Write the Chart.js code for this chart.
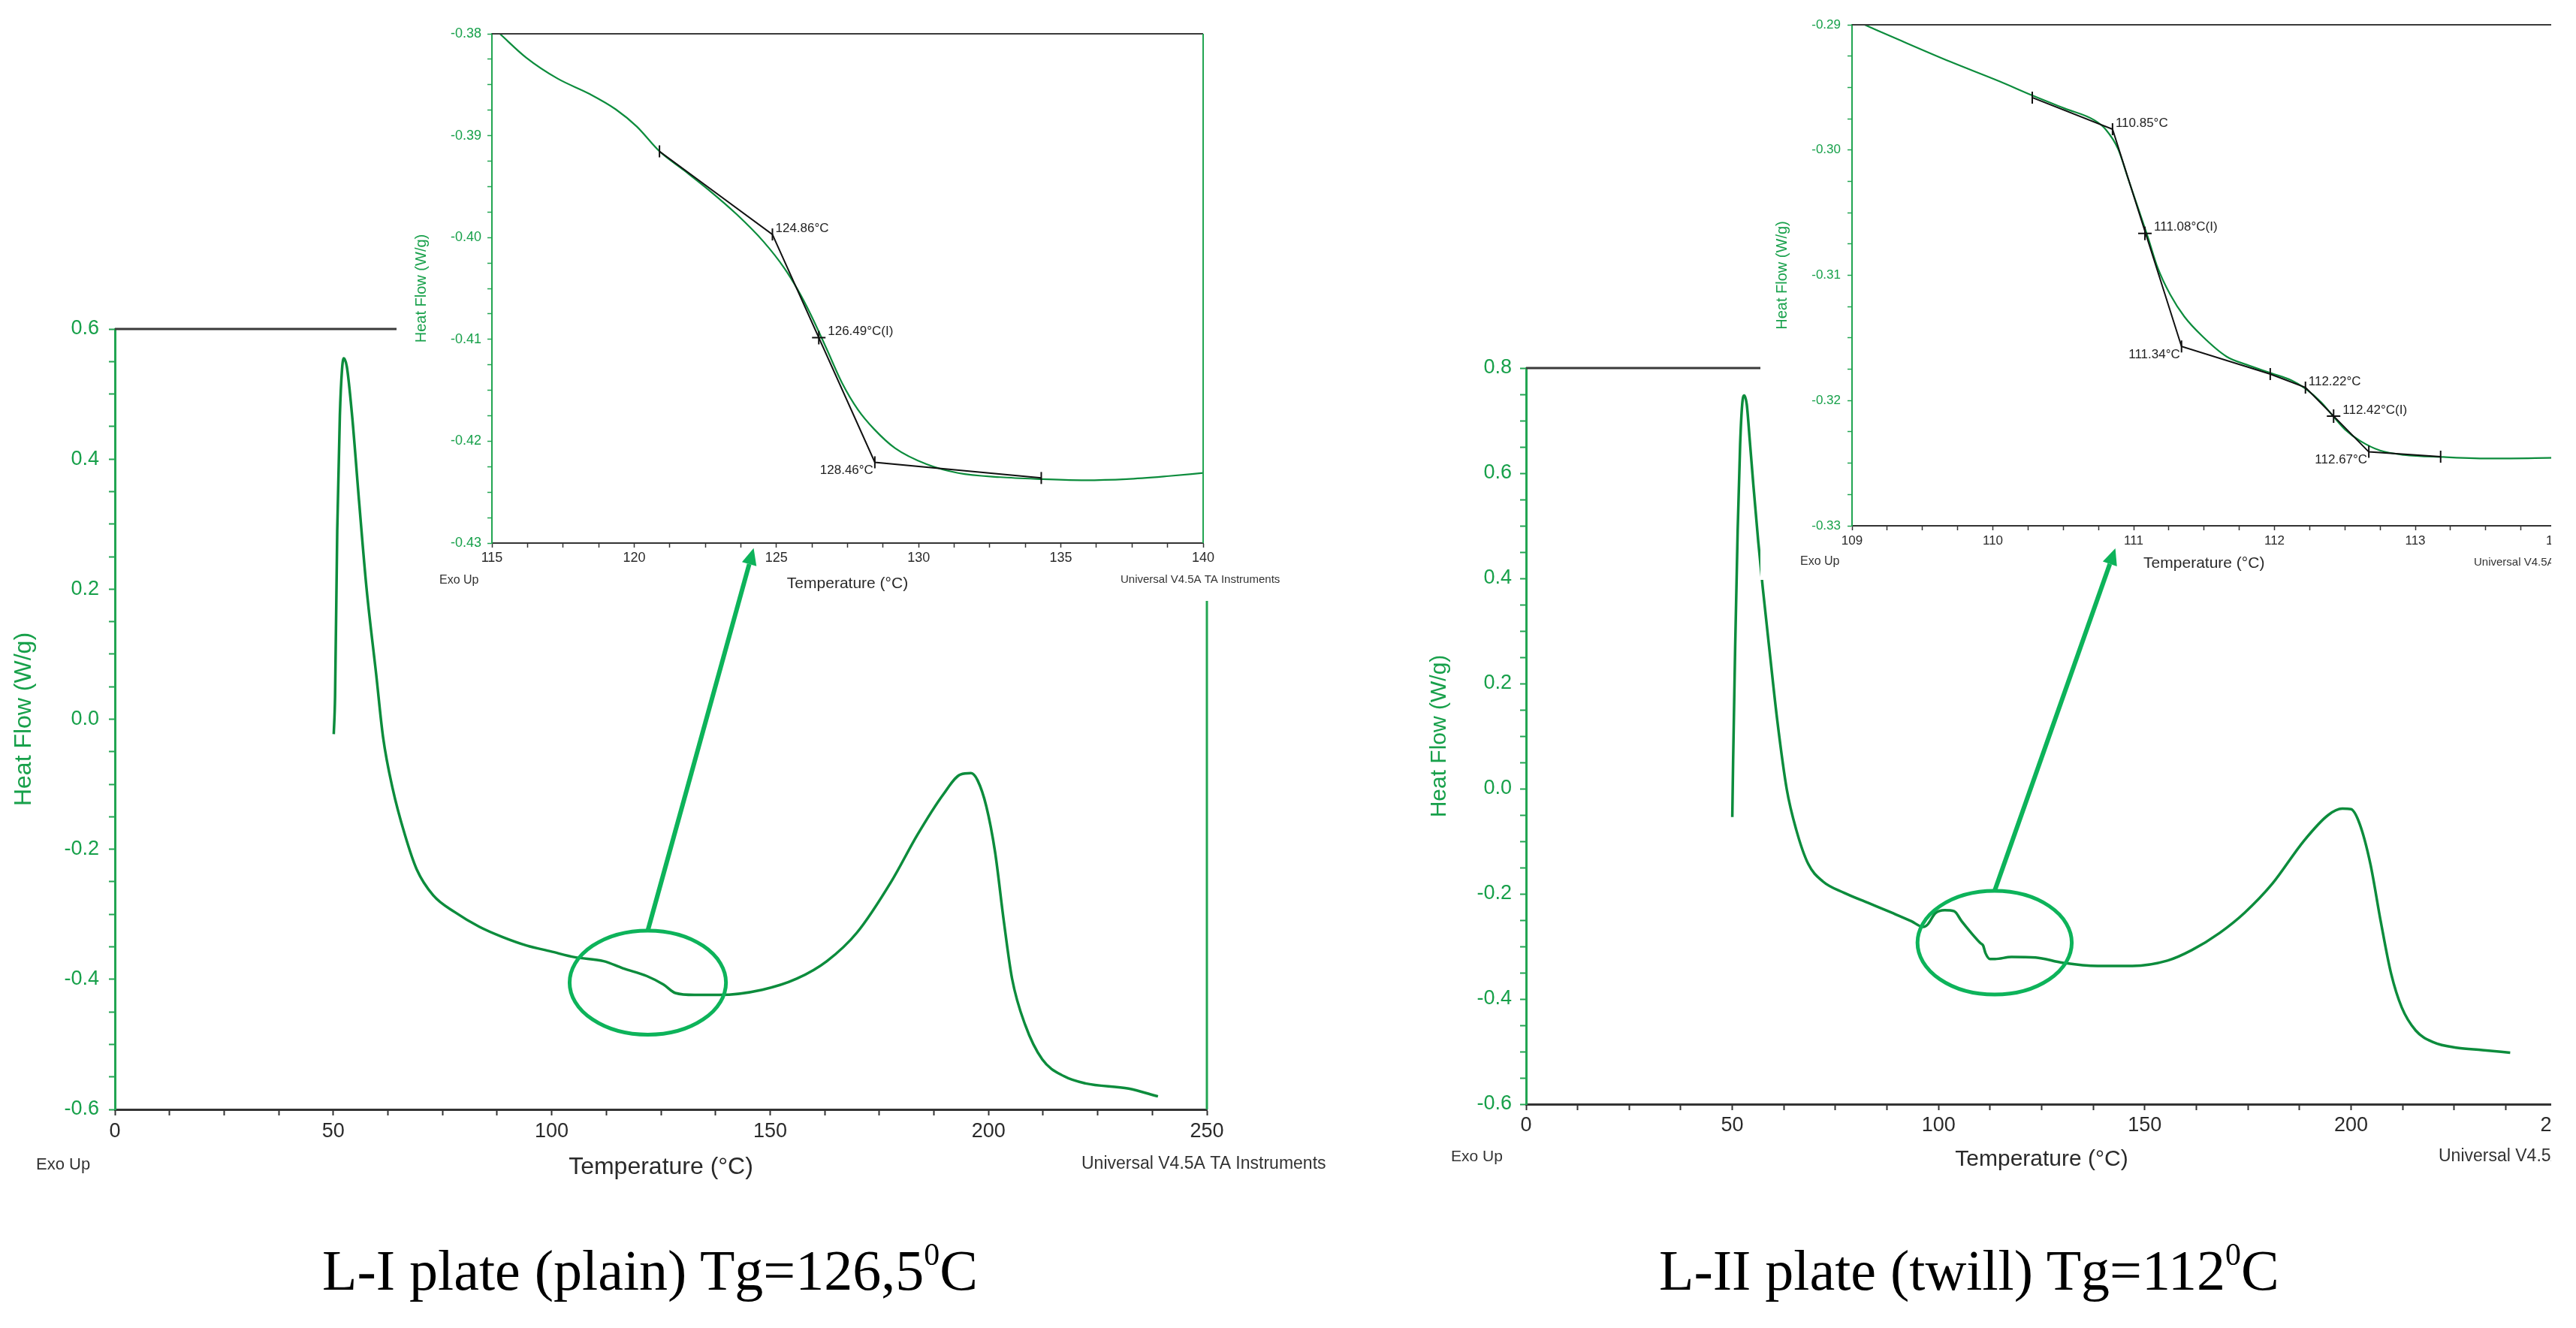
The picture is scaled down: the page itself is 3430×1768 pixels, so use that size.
<!DOCTYPE html>
<html><head><meta charset="utf-8"><title>DSC curves L-I and L-II</title>
<script src="https://cdn.jsdelivr.net/npm/chart.js@4.4.1/dist/chart.umd.min.js"></script>
<style>
html,body{margin:0;padding:0;background:#fff;}
body{position:relative;width:3430px;height:1768px;overflow:hidden;font-family:"Liberation Sans",Arial,sans-serif}
canvas{position:absolute;display:block}
.box{position:absolute;background:#fff;overflow:hidden}
.cap{position:absolute;font-family:"Liberation Serif","Times New Roman",serif;font-size:76px;line-height:90px;color:#000;white-space:nowrap}
.cap sup{font-size:0.55em;line-height:0;vertical-align:0.78em}
</style></head><body>
<canvas id="mainL" width="1800" height="1600" style="left:0;top:0;width:1800px;height:1600px"></canvas>
<canvas id="mainR" width="1630" height="1600" style="left:1800px;top:0;width:1630px;height:1600px"></canvas>
<div class="box" style="left:528px;top:0;width:1180px;height:800px"><canvas id="insetL" width="1180" height="800" style="left:0;top:0;width:1180px;height:800px"></canvas></div>
<div class="box" style="left:2344px;top:0;width:1086px;height:772px"><canvas id="insetR" width="1086" height="772" style="left:0;top:0;width:1086px;height:772px"></canvas></div>
<canvas id="overlay" width="3430" height="1768" style="left:0;top:0;width:3430px;height:1768px;pointer-events:none"></canvas>
<div class="box" style="left:3397px;top:0;width:33px;height:1768px"></div>
<div class="cap" style="left:429px;top:1646px">L-I plate (plain) Tg=126,5<sup>0</sup>C</div>
<div class="cap" style="left:2209px;top:1646px">L-II plate (twill) Tg=112<sup>0</sup>C</div>
<script>
// ---------------- DATA ----------------
// L-I plate (plain), full scan
const L_T  = [50.1,50.4,50.9,51.5,52.0,52.4,53.1,54.3,55.9,57.6,59.8,61.4,63.6,66.4,69.1,72.9,77.9,83.4,88.8,94.3,99.8,105.3,111.9,116.3,121.8,125.6,128.3,132.7,138.3,148.2,156.1,163.0,169.9,177.8,183.7,189.6,193.6,196.0,197.5,199.5,201.5,203.5,205.4,208.4,212.3,217.3,222.2,232.1,238.8];
const L_HF = [-0.023,0.034,0.290,0.467,0.538,0.555,0.542,0.467,0.335,0.202,0.070,-0.028,-0.107,-0.178,-0.231,-0.271,-0.297,-0.319,-0.335,-0.348,-0.357,-0.366,-0.372,-0.383,-0.395,-0.408,-0.421,-0.424,-0.424,-0.416,-0.399,-0.372,-0.328,-0.249,-0.178,-0.116,-0.085,-0.083,-0.094,-0.134,-0.204,-0.310,-0.399,-0.470,-0.523,-0.549,-0.560,-0.568,-0.580];
// L-I inset (115-140 °C)
const LI_T  = [115.28,116.20,117.31,118.43,119.35,120.09,120.89,121.76,122.69,123.61,124.54,125.28,125.74,126.20,126.76,127.31,127.87,128.43,129.17,130.28,131.39,132.87,134.35,135.83,137.31,138.80,140.00];
const LI_HF = [-0.3800,-0.38233,-0.38440,-0.38590,-0.38741,-0.38910,-0.39154,-0.39342,-0.39549,-0.39774,-0.40038,-0.40301,-0.40508,-0.40752,-0.41090,-0.41429,-0.41692,-0.41880,-0.42068,-0.42226,-0.42312,-0.42353,-0.42372,-0.42383,-0.42372,-0.42342,-0.42312];
const LI_TAN_T  = [120.89,124.86,128.46,134.31];
const LI_TAN_HF = [-0.39154,-0.39970,-0.42207,-0.42361];
const LI_MARK_T    = [124.86,126.49,128.46];
const LI_MARK_HF   = [-0.39970,-0.40983,-0.42207];
const LI_MARK_TXT  = ['124.86°C','126.49°C(I)','128.46°C'];
const LI_MARK_KIND = ['onset','inflection','end'];
const LI_CROSS_T  = [126.49];
const LI_CROSS_HF = [-0.40983];

// L-II plate (twill), full scan
const R_T  = [50.0,50.2,50.7,51.3,51.9,52.4,52.9,53.5,54.2,55.1,56.3,57.4,59.2,60.9,63.2,65.5,68.4,71.9,77.1,82.9,88.7,93.4,96.3,97.4,99.2,101.5,103.8,105.6,107.9,110.2,110.8,111.4,112.5,113.7,117.7,123.5,130.1,138.6,147.0,155.5,161.4,168.2,174.2,180.9,188.6,194.5,197.9,200.0,202.1,204.7,207.2,209.7,212.3,215.7,219.9,225.8,231.8,238.6];
const R_HF = [-0.054,0.054,0.272,0.491,0.655,0.731,0.748,0.731,0.666,0.578,0.469,0.381,0.250,0.130,-0.001,-0.078,-0.143,-0.176,-0.198,-0.217,-0.236,-0.252,-0.263,-0.258,-0.237,-0.231,-0.233,-0.252,-0.274,-0.294,-0.298,-0.313,-0.324,-0.324,-0.320,-0.321,-0.331,-0.337,-0.337,-0.327,-0.307,-0.274,-0.236,-0.181,-0.099,-0.050,-0.038,-0.039,-0.067,-0.143,-0.252,-0.351,-0.416,-0.460,-0.482,-0.493,-0.497,-0.502];
// L-II inset (109-114 °C)
const RI_T  = [109.09,109.35,109.70,110.05,110.28,110.51,110.72,110.80,110.89,110.96,111.03,111.10,111.17,111.26,111.36,111.49,111.66,111.80,111.98,112.12,112.22,112.33,112.42,112.50,112.61,112.75,112.92,113.20,113.55,114.00];
const RI_HF = [-0.29000,-0.29128,-0.29296,-0.29453,-0.29564,-0.29668,-0.29761,-0.29834,-0.29993,-0.30226,-0.30458,-0.30691,-0.30938,-0.31155,-0.31330,-0.31489,-0.31649,-0.31713,-0.31783,-0.31838,-0.31905,-0.32012,-0.32129,-0.32230,-0.32323,-0.32399,-0.32434,-0.32451,-0.32463,-0.32457];
const RI_TAN_T  = [110.28,110.85,111.34,111.97,112.22,112.67,113.18];
const RI_TAN_HF = [-0.29581,-0.29834,-0.31568,-0.31789,-0.31896,-0.32410,-0.32448];
const RI_MARK_T    = [110.85,111.08,111.34,112.22,112.42,112.67];
const RI_MARK_HF   = [-0.29834,-0.30666,-0.31568,-0.31896,-0.32125,-0.32410];
const RI_MARK_TXT  = ['110.85°C','111.08°C(I)','111.34°C','112.22°C','112.42°C(I)','112.67°C'];
const RI_MARK_KIND = ['onset','inflection','end','onset','inflection','end'];
const RI_CROSS_T  = [111.08,112.42];
const RI_CROSS_HF = [-0.30666,-0.32125];

// zoom marks (ellipse around Tg region, arrow tip into inset)
const L_ZOOM_CENTER = [122.0,-0.405];
const L_ZOOM_RADIUS = [17.9,0.080];
const L_ARROW_TIP   = [124.2,-0.4305];
const R_ZOOM_CENTER = [113.6,-0.293];
const R_ZOOM_RADIUS = [18.7,0.0986];
const R_ARROW_TIP   = [110.87,-0.3318];

// tick labels
const MAIN_X_LABELS = [0,50,100,150,200,250];
const L_Y_LABELS  = [-0.6,-0.4,-0.2,0,0.2,0.4,0.6];
const R_Y_LABELS  = [-0.6,-0.4,-0.2,0,0.2,0.4,0.6,0.8];
const LI_X_LABELS = [115,120,125,130,135,140];
const LI_Y_LABELS = [-0.43,-0.42,-0.41,-0.40,-0.39,-0.38];
const RI_X_LABELS = [109,110,111,112,113,114];
const RI_Y_LABELS = [-0.33,-0.32,-0.31,-0.30,-0.29];

const X_TITLE = 'Temperature (°C)';
const Y_TITLE = 'Heat Flow (W/g)';
const EXO = 'Exo Up';
const UNIV = 'Universal V4.5A TA Instruments';

// ---------------- STYLE ----------------
const CURVE = '#0c8c3c';
const GREEN_TXT = '#17a04a';
const GREEN_AX = '#22a552';
const DARK = '#2a2a2a';
const ZOOM_COLOR = '#0db35a';
Chart.defaults.font.family = '"Liberation Sans", Arial, sans-serif';
Chart.defaults.color = DARK;

const pts = (xs, ys) => xs.map((x, i) => ({x, y: ys[i]}));
function labelCb(list, digits) {
  return (v) => {
    const hit = list.find(l => Math.abs(l - v) < 1e-7);
    if (hit === undefined) return '';
    if (digits === null) return String(hit);
    return (Math.abs(hit) < 1e-12 ? 0 : hit).toFixed(digits);
  };
}
function linScale(o) {
  return {
    type: 'linear', position: o.pos, min: o.min, max: o.max,
    ticks: {stepSize: o.step, autoSkip: false, maxRotation: 0, minRotation: 0, includeBounds: true,
      color: o.tickColor, font: {size: o.tickSize}, padding: o.tickPad, callback: o.cb},
    grid: {display: true, drawOnChartArea: false, drawTicks: true, tickLength: o.tickLen, tickWidth: o.tickWidth, tickColor: o.lineColor},
    border: {display: true, color: o.lineColor, width: o.lineWidth},
    title: {display: true, text: o.title, color: o.titleColor, font: {size: o.titleSize}, padding: o.titlePad},
    afterFit: (s) => {
      if (s.isHorizontal()) { s.height = o.size; s.paddingLeft = 0; s.paddingRight = 0; }
      else { s.width = o.size; s.paddingTop = 0; s.paddingBottom = 0; }
    }
  };
}

const framePlugin = {
  id: 'frame',
  afterDatasetsDraw(chart, args, opts) {
    const {ctx, chartArea: a} = chart;
    ctx.save();
    if (opts.top) { ctx.strokeStyle = opts.top.color; ctx.lineWidth = opts.top.width; ctx.beginPath(); ctx.moveTo(a.left, a.top); ctx.lineTo(a.right, a.top); ctx.stroke(); }
    if (opts.right) { ctx.strokeStyle = opts.right.color; ctx.lineWidth = opts.right.width; ctx.beginPath(); ctx.moveTo(a.right, a.top); ctx.lineTo(a.right, a.bottom); ctx.stroke(); }
    ctx.restore();
  }
};
const cornerText = {
  id: 'cornerText',
  afterDraw(chart, args, opts) {
    const {ctx} = chart;
    ctx.save(); ctx.textBaseline = 'middle'; ctx.textAlign = 'left';
    (opts.items || []).forEach(it => { ctx.font = it.font; ctx.fillStyle = it.color; ctx.fillText(it.text, it.x, it.y); });
    ctx.restore();
  }
};
const markLabels = {
  id: 'markLabels',
  afterDatasetsDraw(chart, args, opts) {
    if (!opts.items) return;
    const {ctx} = chart; const xs = chart.scales.x, ys = chart.scales.y;
    ctx.save(); ctx.font = opts.font; ctx.fillStyle = opts.color; ctx.textBaseline = 'middle';
    opts.items.forEach(it => {
      const pl = opts.place[it.kind];
      ctx.textAlign = pl.align;
      ctx.fillText(it.text, xs.getPixelForValue(it.x) + pl.dx, ys.getPixelForValue(it.y) + pl.dy);
    });
    ctx.restore();
  }
};
Chart.register(framePlugin, cornerText, markLabels);

const base = {animation: false, responsive: false, devicePixelRatio: 1, events: [],
  plugins: {legend: {display: false}, tooltip: {enabled: false}}};

function mainChart(id, T, HF, cfg) {
  return new Chart(document.getElementById(id), {
    type: 'line',
    data: {datasets: [{data: pts(T, HF), borderColor: CURVE, borderWidth: 3.5, pointRadius: 0, cubicInterpolationMode: 'monotone', fill: false}]},
    options: Object.assign({}, base, {
      layout: {autoPadding: false, padding: cfg.padding},
      scales: {
        x: linScale({pos: 'bottom', min: 0, max: 250, step: 12.5, cb: labelCb(MAIN_X_LABELS, null), tickColor: DARK, tickSize: 27, tickPad: cfg.xPad,
          tickLen: 8, tickWidth: 2, lineColor: '#333', lineWidth: 3, title: X_TITLE, titleColor: DARK, titleSize: cfg.titleSize, titlePad: {top: 4, bottom: 4}, size: cfg.xH}),
        y: linScale({pos: 'left', min: -0.6, max: cfg.yMax, step: 0.05, cb: labelCb(cfg.yLabels, 1), tickColor: GREEN_TXT, tickSize: 27, tickPad: cfg.yPad,
          tickLen: 8, tickWidth: 2, lineColor: GREEN_AX, lineWidth: 3, title: Y_TITLE, titleColor: GREEN_TXT, titleSize: cfg.titleSize, titlePad: {top: cfg.yTitlePad, bottom: 4}, size: cfg.yW})
      },
      plugins: Object.assign({}, base.plugins, {
        frame: {top: {color: '#3a3a3a', width: 3}, right: {color: GREEN_AX, width: 3}},
        cornerText: {items: cfg.corner}
      })
    })
  });
}

function insetChart(id, cfg) {
  return new Chart(document.getElementById(id), {
    type: 'line',
    data: {datasets: [
      {data: pts(cfg.crossT, cfg.crossHF), showLine: false, pointStyle: 'cross', pointRadius: 9, pointBorderColor: '#111', pointBorderWidth: 2, order: 0},
      {data: pts(cfg.tanT, cfg.tanHF), borderColor: '#111', borderWidth: 2, tension: 0, pointStyle: 'line', pointRotation: 90, pointRadius: 8,
        pointBorderColor: '#111', pointBorderWidth: 2, order: 1},
      {data: pts(cfg.T, cfg.HF), borderColor: CURVE, borderWidth: 2.2, pointRadius: 0, cubicInterpolationMode: 'monotone', order: 2}
    ]},
    options: Object.assign({}, base, {
      layout: {autoPadding: false, padding: cfg.padding},
      scales: {
        x: linScale({pos: 'bottom', min: cfg.xMin, max: cfg.xMax, step: cfg.xStep, cb: labelCb(cfg.xLabels, null), tickColor: DARK, tickSize: cfg.tickSize, tickPad: cfg.xPad,
          tickLen: 6, tickWidth: 1.5, lineColor: '#333', lineWidth: 2, title: X_TITLE, titleColor: DARK, titleSize: 21, titlePad: {top: 4, bottom: 4}, size: cfg.xH}),
        y: linScale({pos: 'left', min: cfg.yMin, max: cfg.yMax, step: 0.0025, cb: labelCb(cfg.yLabels, 2), tickColor: GREEN_TXT, tickSize: cfg.tickSize, tickPad: cfg.yPad,
          tickLen: 6, tickWidth: 1.5, lineColor: GREEN_AX, lineWidth: 2, title: Y_TITLE, titleColor: GREEN_TXT, titleSize: 20, titlePad: {top: cfg.yTitlePad, bottom: 4}, size: cfg.yW})
      },
      plugins: Object.assign({}, base.plugins, {
        frame: cfg.frame,
        cornerText: {items: cfg.corner},
        markLabels: {
          font: '17px "Liberation Sans", Arial, sans-serif', color: '#222',
          items: cfg.markT.map((t, i) => ({x: t, y: cfg.markHF[i], text: cfg.markTxt[i], kind: cfg.markKind[i]})),
          place: {onset: {align: 'left', dx: 4, dy: -8}, inflection: {align: 'left', dx: 12, dy: -8}, end: {align: 'right', dx: -2, dy: 11}}
        }
      })
    })
  });
}

const fSmall = (s) => s + 'px "Liberation Sans", Arial, sans-serif';

const mainL = mainChart('mainL', L_T, L_HF, {
  padding: {left: 0, top: 438, right: 193, bottom: 23}, yMax: 0.6, yLabels: L_Y_LABELS,
  xPad: 5, yPad: 13, xH: 100, yW: 153, titleSize: 32, yTitlePad: 13,
  corner: [{text: EXO, x: 48, y: 1551, font: fSmall(22), color: '#333'}, {text: UNIV, x: 1440, y: 1550, font: fSmall(23), color: '#333'}]
});
const mainR = mainChart('mainR', R_T, R_HF, {
  padding: {left: 80, top: 490, right: 25, bottom: 34}, yMax: 0.8, yLabels: R_Y_LABELS,
  xPad: 4, yPad: 11, xH: 96, yW: 152, titleSize: 30, yTitlePad: 19,
  corner: [{text: EXO, x: 132, y: 1540, font: fSmall(21), color: '#333'}, {text: UNIV, x: 1447, y: 1540, font: fSmall(23), color: '#333'}]
});
const insetL = insetChart('insetL', {
  T: LI_T, HF: LI_HF, tanT: LI_TAN_T, tanHF: LI_TAN_HF, crossT: LI_CROSS_T, crossHF: LI_CROSS_HF,
  markT: LI_MARK_T, markHF: LI_MARK_HF, markTxt: LI_MARK_TXT, markKind: LI_MARK_KIND,
  xMin: 115, xMax: 140, xStep: 1.25, xLabels: LI_X_LABELS, yMin: -0.43, yMax: -0.38, yLabels: LI_Y_LABELS,
  padding: {left: 0, top: 45, right: 106, bottom: 6}, tickSize: 18, xPad: 3, yPad: 8, xH: 71, yW: 127, yTitlePad: 21,
  frame: {top: {color: '#3a3a3a', width: 2}, right: {color: GREEN_AX, width: 2}},
  corner: [{text: EXO, x: 57, y: 773, font: fSmall(16), color: '#333'}, {text: UNIV, x: 964, y: 772, font: fSmall(15), color: '#333'}]
});
const insetR = insetChart('insetR', {
  T: RI_T, HF: RI_HF, tanT: RI_TAN_T, tanHF: RI_TAN_HF, crossT: RI_CROSS_T, crossHF: RI_CROSS_HF,
  markT: RI_MARK_T, markHF: RI_MARK_HF, markTxt: RI_MARK_TXT, markKind: RI_MARK_KIND,
  xMin: 109, xMax: 114, xStep: 0.25, xLabels: RI_X_LABELS, yMin: -0.33, yMax: -0.29, yLabels: RI_Y_LABELS,
  padding: {left: 0, top: 33, right: 26.5, bottom: 5}, tickSize: 17, xPad: 4, yPad: 9, xH: 67, yW: 122, yTitlePad: 17,
  frame: {top: {color: '#3a3a3a', width: 2}},
  corner: [{text: EXO, x: 53, y: 748, font: fSmall(16), color: '#333'}, {text: UNIV, x: 950, y: 749, font: fSmall(15), color: '#333'}]
});

// ---------------- overlay: ellipses + arrows linking main plots to insets ----------------
function toPage(chart, off, x, y) {
  return [off[0] + chart.scales.x.getPixelForValue(x), off[1] + chart.scales.y.getPixelForValue(y)];
}
function drawZoomMark(ctx, main, mainOff, inset, insetOff, center, radius, tip) {
  const [cx, cy] = toPage(main, mainOff, center[0], center[1]);
  const [ex, ey] = toPage(main, mainOff, center[0] + radius[0], center[1] + radius[1]);
  const rx = Math.abs(ex - cx), ry = Math.abs(ey - cy);
  ctx.save();
  ctx.strokeStyle = ZOOM_COLOR; ctx.fillStyle = ZOOM_COLOR; ctx.lineWidth = 5;
  ctx.beginPath(); ctx.ellipse(cx, cy, rx, ry, 0, 0, 2 * Math.PI); ctx.stroke();
  const [tx, ty] = toPage(inset, insetOff, tip[0], tip[1]);
  const sx = cx, sy = cy - ry;
  const ang = Math.atan2(ty - sy, tx - sx);
  const headLen = 22, headW = 10;
  const bx = tx - headLen * Math.cos(ang), by = ty - headLen * Math.sin(ang);
  ctx.lineWidth = 6; ctx.lineCap = 'butt';
  ctx.beginPath(); ctx.moveTo(sx, sy); ctx.lineTo(bx, by); ctx.stroke();
  ctx.beginPath(); ctx.moveTo(tx, ty);
  ctx.lineTo(bx + headW * Math.sin(ang), by - headW * Math.cos(ang));
  ctx.lineTo(bx - headW * Math.sin(ang), by + headW * Math.cos(ang));
  ctx.closePath(); ctx.fill();
  ctx.restore();
}
const octx = document.getElementById('overlay').getContext('2d');
drawZoomMark(octx, mainL, [0, 0], insetL, [528, 0], L_ZOOM_CENTER, L_ZOOM_RADIUS, L_ARROW_TIP);
drawZoomMark(octx, mainR, [1800, 0], insetR, [2344, 0], R_ZOOM_CENTER, R_ZOOM_RADIUS, R_ARROW_TIP);
</script>
</body></html>
